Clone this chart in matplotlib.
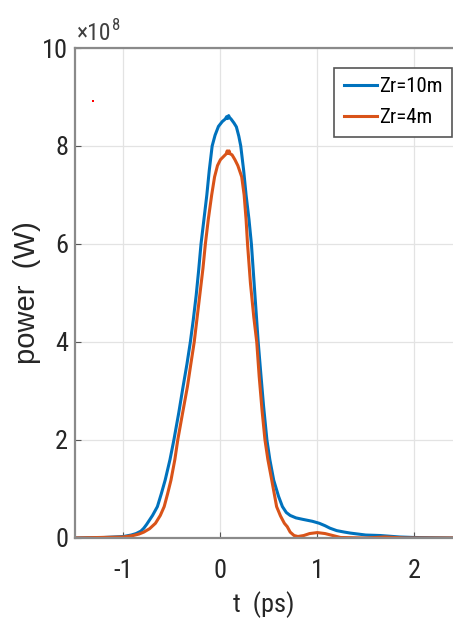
import matplotlib.pyplot as plt

plt.rcParams['font.family'] = ['Roboto Condensed', 'Liberation Sans', 'DejaVu Sans']

# pulse power, in units of 1e8 W
t_zr10 = [-1.5, -1.2, -1.0, -0.92, -0.87, -0.82, -0.79, -0.76, -0.70, -0.65, -0.61,
          -0.57, -0.52, -0.48, -0.43, -0.385, -0.345, -0.31, -0.28, -0.25, -0.225,
          -0.20, -0.17, -0.14, -0.115, -0.085, -0.055, -0.02, 0.02, 0.05, 0.065,
          0.075, 0.085, 0.095, 0.11, 0.14, 0.165, 0.19, 0.21, 0.24, 0.265, 0.295,
          0.32, 0.355, 0.39, 0.415, 0.445, 0.48, 0.51, 0.55, 0.60, 0.64, 0.68, 0.72,
          0.78, 0.85, 0.95, 1.02, 1.08, 1.13, 1.20, 1.28, 1.34, 1.5, 1.65, 1.85,
          2.0, 2.4]
p_zr10 = [0.0, 0.01, 0.03, 0.06, 0.09, 0.14, 0.2, 0.28, 0.46, 0.64, 0.9,
          1.18, 1.6, 2.0, 2.55, 3.09, 3.55, 4.0, 4.45, 4.95, 5.45,
          6.0, 6.5, 7.0, 7.5, 8.0, 8.22, 8.4, 8.5, 8.55, 8.6,
          8.56, 8.62, 8.58, 8.55, 8.47, 8.39, 8.2, 8.0, 7.5, 7.0, 6.5,
          6.0, 5.0, 4.0, 3.4, 2.7, 2.0, 1.6, 1.18, 0.85, 0.64, 0.52, 0.46,
          0.41, 0.38, 0.34, 0.3, 0.25, 0.2, 0.15, 0.12, 0.1, 0.06, 0.05, 0.02,
          0.01, 0.0]

t_zr4 = [-1.5, -1.0, -0.9, -0.84, -0.79, -0.73, -0.67, -0.62, -0.58, -0.545, -0.51,
         -0.47, -0.44, -0.39, -0.34, -0.305, -0.27, -0.24, -0.21, -0.18, -0.155,
         -0.125, -0.09, -0.06, -0.03, 0.0, 0.04, 0.06, 0.07, 0.08, 0.09, 0.10,
         0.12, 0.15, 0.18, 0.22, 0.245, 0.265, 0.28, 0.31, 0.345, 0.375, 0.40,
         0.43, 0.46, 0.49, 0.53, 0.58, 0.62, 0.66, 0.69, 0.72, 0.76, 0.80, 0.86,
         0.92, 1.0, 1.08, 1.16, 1.24, 1.5, 1.7, 1.9, 2.4]
p_zr4 = [0.0, 0.02, 0.05, 0.08, 0.12, 0.19, 0.3, 0.46, 0.64, 0.9, 1.18,
         1.6, 2.0, 2.55, 3.09, 3.55, 4.0, 4.5, 5.0, 5.5, 6.0,
         6.5, 7.0, 7.37, 7.6, 7.72, 7.8, 7.84, 7.9, 7.85, 7.9, 7.84,
         7.82, 7.72, 7.6, 7.37, 7.0, 6.5, 6.0, 5.2, 4.5, 4.0, 3.3,
         2.6, 2.0, 1.6, 1.18, 0.64, 0.45, 0.3, 0.23, 0.12, 0.05, 0.03, 0.05,
         0.09, 0.11, 0.09, 0.05, 0.01, 0.0, 0.02, 0.0, 0.0]

labels = ['Zr=10m', 'Zr=4m']
xticks = [-1, 0, 1, 2]
yticks = [0, 2, 4, 6, 8, 10]

fig = plt.figure(figsize=(4.53, 6.21), dpi=100)
ax = fig.add_axes([0.1656, 0.1337, 0.8344, 0.789])

ax.plot(t_zr10, p_zr10, color='#0072BD', lw=2.2, label=labels[0])
ax.plot(t_zr4, p_zr4, color='#D95319', lw=2.2, label=labels[1])
ax.plot([-1.31], [8.92], 's', color='red', ms=1.5, mew=0)

ax.set_xlim(-1.5, 2.4)
ax.set_ylim(0, 10)
ax.set_xticks(xticks)
ax.set_xticklabels(['-1', '0', '1', '2'])
ax.set_yticks(yticks)
ax.grid(True, color='#e3e3e3', lw=0.9)
ax.tick_params(direction='in', length=4, colors='#555555', labelcolor='#262626',
               labelsize=19)
ax.tick_params(axis='x', pad=15)
ax.tick_params(axis='y', pad=5)
for s in ['left', 'bottom', 'top']:
    ax.spines[s].set_color('#8a8a8a')
    ax.spines[s].set_linewidth(1.6)
ax.spines['right'].set_visible(False)

ax.set_xlabel('t  (ps)', fontsize=19, color='#262626', labelpad=6)
ax.set_ylabel('power  (W)', fontsize=21, color='#262626', labelpad=1,
              family=['Liberation Sans'])
ax.text(0.005, 1.016, '×10', transform=ax.transAxes, fontsize=17,
        color='#404040', va='baseline', ha='left')
ax.text(0.098, 1.036, '8', transform=ax.transAxes, fontsize=12,
        color='#404040', va='baseline', ha='left')

leg = ax.legend(loc='upper right', bbox_to_anchor=(0.997, 0.96), fontsize=15,
                fancybox=False, framealpha=1, edgecolor='#555555',
                handlelength=1.6, handletextpad=0.1, borderpad=0.45,
                labelspacing=0.6, borderaxespad=0)
leg.get_frame().set_linewidth(1.2)

fig.savefig('out.png', dpi=100)
